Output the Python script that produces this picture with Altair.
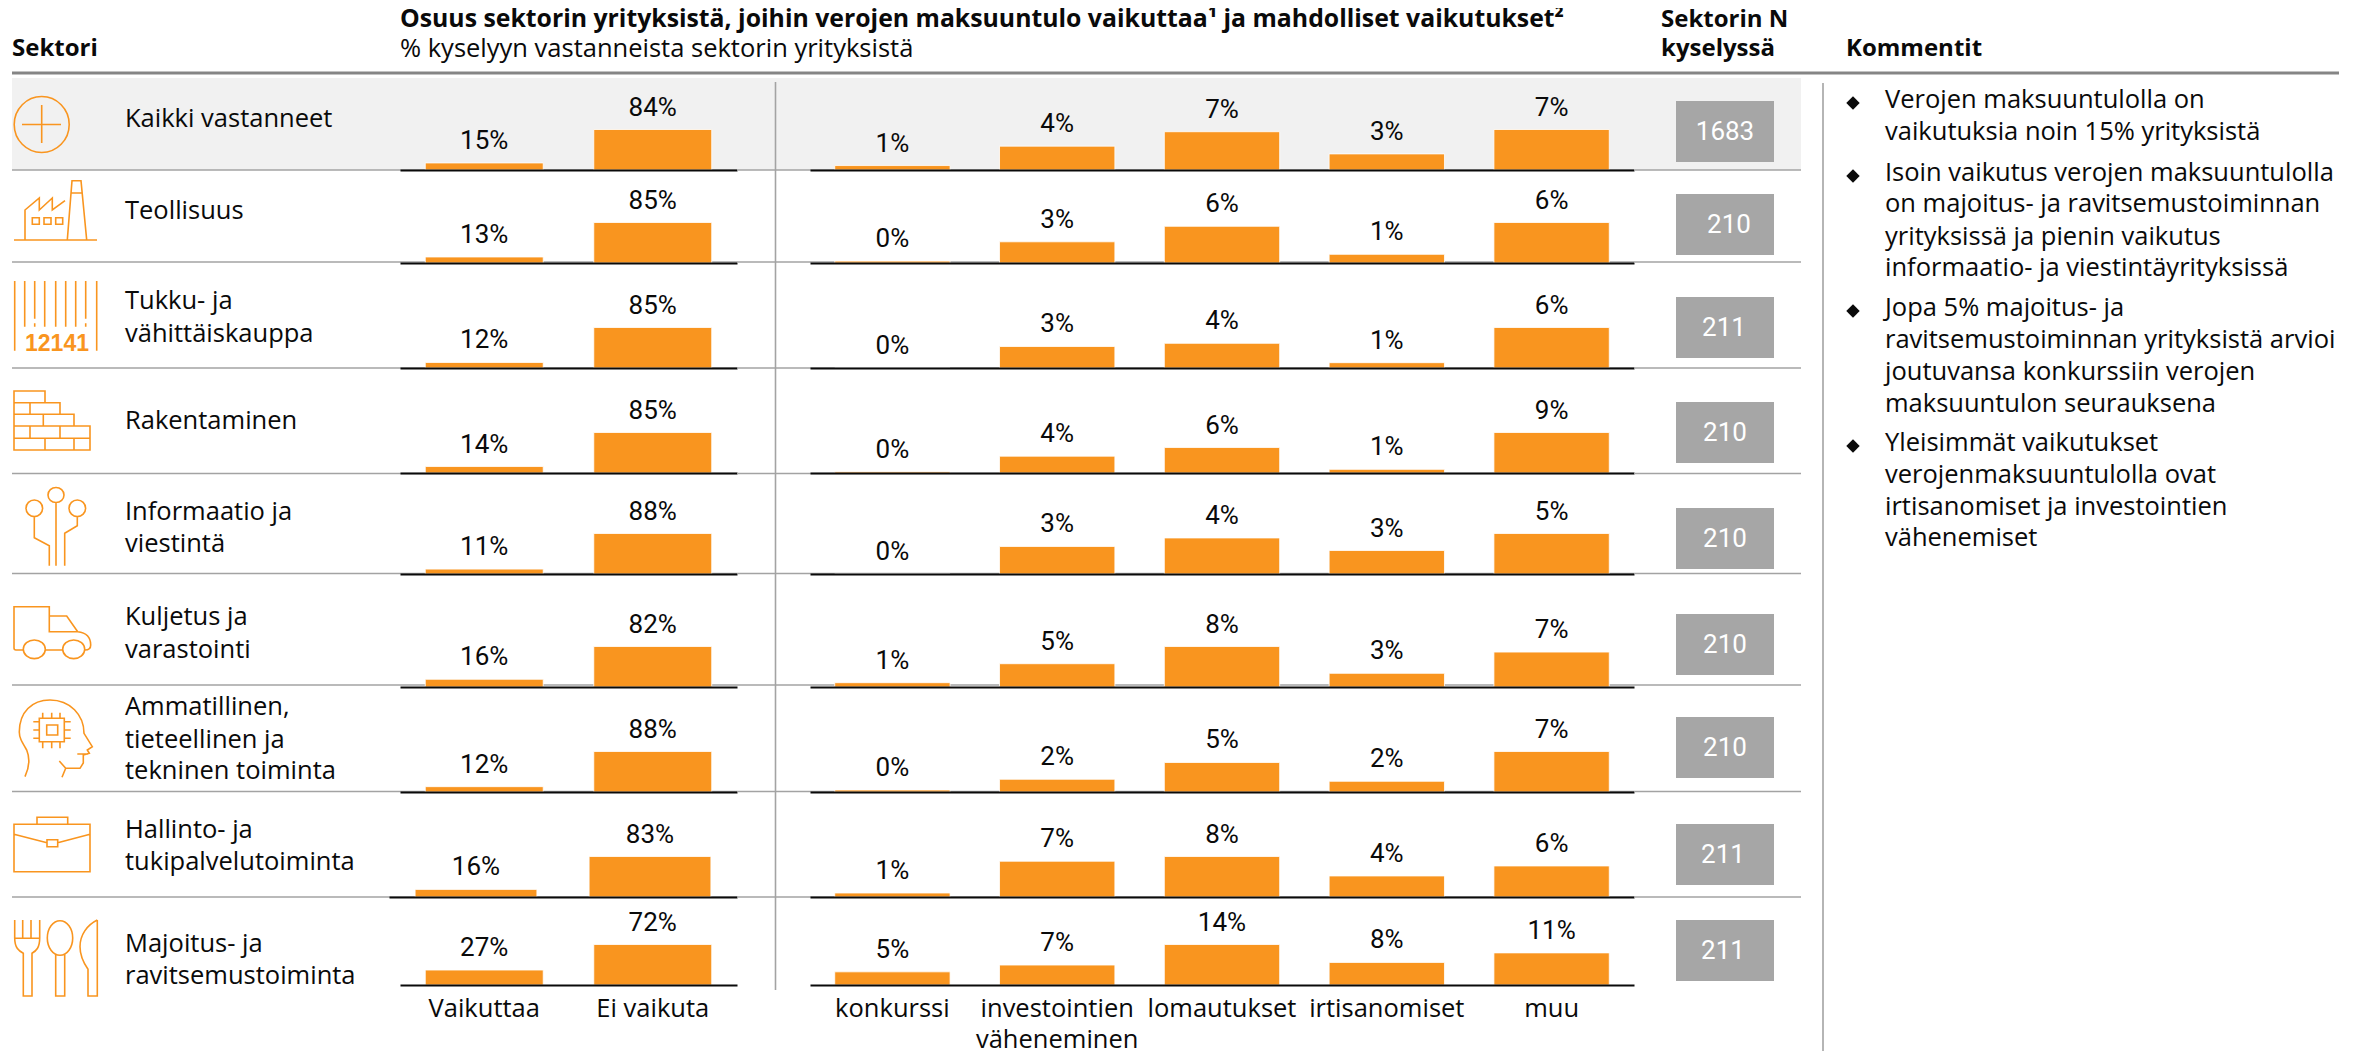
import altair as alt
import pandas as pd

# ---------- values ----------
sector_lines = [
    ["Kaikki vastanneet"], ["Teollisuus"], ["Tukku- ja", "vähittäiskauppa"], ["Rakentaminen"],
    ["Informaatio ja", "viestintä"], ["Kuljetus ja", "varastointi"],
    ["Ammatillinen,", "tieteellinen ja", "tekninen toiminta"], ["Hallinto- ja", "tukipalvelutoiminta"],
    ["Majoitus- ja", "ravitsemustoiminta"],
]
left_cats = ["Vaikuttaa", "Ei vaikuta"]
right_cats = ["konkurssi", "investointien väheneminen", "lomautukset", "irtisanomiset", "muu"]
vaikuttaa = [14.6, 12.6, 11.6, 13.6, 10.6, 15.6, 11.6, 15.6, 26.6]
ei_vaikuta = [84, 85, 85, 85, 88, 82, 88, 83, 72]
konkurssi = [0.8, 0.3, 0.0, 0.3, 0.0, 0.85, 0.35, 0.76, 4.55]
investoinnit = [4.3, 3.35, 3.4, 3.7, 3.4, 4.6, 2.2, 6.8, 6.9]
lomautukset = [6.9, 5.8, 3.9, 5.6, 4.45, 8.0, 5.1, 7.7, 14.0]
irtisanomiset = [2.9, 1.37, 0.84, 0.8, 2.9, 2.7, 1.85, 4.0, 7.8]
muu = [7.3, 6.4, 6.4, 8.9, 5.0, 6.9, 7.0, 5.9, 11.1]
sector_n = ["1683", "210", "211", "210", "210", "210", "210", "211", "211"]
comments = [
    ("Verojen maksuuntulolla on", True), ("vaikutuksia noin 15% yrityksistä", False),
    ("Isoin vaikutus verojen maksuuntulolla", True), ("on majoitus- ja ravitsemustoiminnan", False),
    ("yrityksissä ja pienin vaikutus", False), ("informaatio- ja viestintäyrityksissä", False),
    ("Jopa 5% majoitus- ja", True), ("ravitsemustoiminnan yrityksistä arvioi", False),
    ("joutuvansa konkurssiin verojen", False), ("maksuuntulon seurauksena", False),
    ("Yleisimmät vaikutukset", True), ("verojenmaksuuntulolla ovat", False),
    ("irtisanomiset ja investointien", False), ("vähenemiset", False),
]

# ---------- layout and style ----------
FONT = "Open Sans"
NUM_FONT = "Roboto"
FS = 25.5
FS_BOLD = 24
FS_TITLE = 24.8
FS_NUM = 26
ORANGE = "#F9951F"
GREY_SEP = "#A3A3A3"
GREY_BOX = "#A6A6A6"
GREY_HEAD = "#858585"
BG = "#F1F1F1"
INK = "#0A0A0A"
MARGIN = 8
BAR_PX = 40.5
HEAD_LINE1 = 19.5
HEAD_LINE2 = 49
baselines = [170, 263, 368, 473, 574, 687, 792, 897, 985]
separators = [170, 262, 368, 473.5, 573.5, 685, 791.5, 897, None]
left_x = [400, 400, 400, 400, 400, 400, 400, 389, 400]
box_top = [101, 194, 297, 402, 508, 614, 717, 824, 920]
n_center = [1725, 1729, 1724, 1725, 1725, 1725, 1725, 1723, 1723]
label_y = [[119], [211], [301, 334], [421], [512, 544], [617, 650], [707, 740, 771], [830, 862], [944, 976]]
comment_y = [100, 132, 173, 204, 237, 268, 308, 340, 372, 404, 443, 475, 507, 538]
X_NAME_END, X_LEFT_END, X_RIGHT, X_RIGHT_END, X_N_END = 389, 737, 810, 1634, 1801
ONE = pd.DataFrame({"o": [0]})


def ell(cx, cy, rx, ry):
    k = 0.5523
    return (f"M{cx-rx} {cy} C{cx-rx} {cy-k*ry} {cx-k*rx} {cy-ry} {cx} {cy-ry} "
            f"C{cx+k*rx} {cy-ry} {cx+rx} {cy-k*ry} {cx+rx} {cy} "
            f"C{cx+rx} {cy+k*ry} {cx+k*rx} {cy+ry} {cx} {cy+ry} "
            f"C{cx-k*rx} {cy+ry} {cx-rx} {cy+k*ry} {cx-rx} {cy} Z ")


def sq(x0, x1, y0, y1):
    return f"M{x0} {y0} H{x1} V{y1} H{x0} Z "


def vl(x, y0, y1):
    return f"M{x} {y0} V{y1} "


def hl(y, x0, x1):
    return f"M{x0} {y} H{x1} "


icons = [
    ell(41.7, 124.5, 27.5, 28) + hl(124.5, 22, 61) + vl(41.7, 105, 143),
    hl(240, 14, 97) + "M67.3 240 L72 180.7 H81 L86.7 240 " + hl(193, 70.7, 82)
    + "M25 240 V210 L39.3 198 V210 L52.3 198 V210 L65 200.7 "
    + sq(32.3, 39.3, 217.7, 224.3) + sq(44, 51, 217.7, 224.3) + sq(55.7, 62.7, 217.7, 224.3),
    vl(14.7, 281, 350.7) + vl(96.7, 281, 350.7) + vl(24.7, 281, 326.7) + vl(34.7, 281, 318.7)
    + vl(34.7, 323.3, 326.7) + vl(44.7, 281, 326.7) + vl(55.7, 281, 326.7) + vl(65.7, 281, 326.7)
    + vl(75.7, 281, 326.7) + vl(85.7, 281, 318.7) + vl(85.7, 323.3, 326.7),
    "M14 391 H45 V402.7 H60 V414.3 H74 V426 H90 V450 H14 Z " + hl(402.7, 14, 45) + hl(414.3, 14, 74)
    + hl(426, 14, 90) + hl(438.3, 14, 90) + vl(30, 402.7, 414.3) + vl(43.3, 414.3, 426)
    + vl(30, 426, 438.3) + vl(60, 426, 438.3) + vl(45, 438.3, 450) + vl(74, 438.3, 450),
    ell(34.3, 508.3, 8.3, 8.3) + ell(56, 495, 8, 7.5) + ell(77.3, 508.3, 8.3, 8.3) + vl(56, 502.7, 565.7)
    + "M34.3 516.7 V537.7 L49.3 545.7 V565.7 M77.3 516.7 V525.7 L64.7 533.3 V565.7 ",
    "M23.3 650 H16 Q14 650 14 648 V606.7 H49.3 V631.7 H77.7 Q90.7 633 90.7 645 Q90.7 650 85 650 "
    + "M49.3 616 H66.7 L77.7 631.7 " + ell(34.3, 649.3, 11, 9.3) + ell(73.7, 649.3, 11, 9.3) + hl(650, 45.3, 62.7),
    "M25 776.7 C29 768 30 758 26.7 750 C22 742 19.3 738 19.3 732 C19.3 712 32 700 50 700 "
    + "C70 700 84 715 84 733.3 L92.3 746.7 L87.3 750 L89.3 753.3 L83.3 755 V763 L80 768.3 H65.7 L59.3 761 "
    + "M65.7 768.3 L62 777.3 " + hl(754, 77.3, 88) + sq(39.3, 64.3, 718.3, 741.7) + sq(46.7, 57.7, 725, 735)
    + vl(42.7, 712.7, 718.3) + vl(51.7, 712.7, 718.3) + vl(60, 712.7, 718.3)
    + vl(42.7, 741.7, 748.3) + vl(51.7, 741.7, 748.3) + vl(60, 741.7, 748.3)
    + hl(721.7, 33.3, 39.3) + hl(730, 33.3, 39.3) + hl(738.3, 33.3, 39.3)
    + hl(721.7, 64.3, 70.7) + hl(730, 64.3, 70.7) + hl(738.3, 64.3, 70.7),
    sq(14, 90, 824.3, 871.7) + "M37 824.3 V817.3 H67.7 V824.3 M14 834.3 L47 842.7 M57.7 842.7 L90 834.3 "
    + sq(47, 57.7, 839.7, 846.7),
    "M14.7 920 V938 C14.7 948 19 951 23.3 953.3 V996 H32 V953.3 C36 951 39.7 948 39.7 938 V920 "
    + vl(22.7, 920, 938.3) + vl(31, 920, 938.3) + hl(938.3, 14.7, 39.7)
    + ell(60, 938, 12.7, 17.3).replace(" Z", "") + "M55.7 954 V996 H64.7 V954 "
    + "M97.3 920 V996 H88 V969.3 C83 962 80 955 80 946.7 C80 935 87 925 97.3 920 ",
]


def text_layer(rows, **kw):
    style = dict(font=FONT, fontSize=FS, color=INK, align="left", baseline="middle")
    style.update(kw)
    return alt.Chart(pd.DataFrame(rows, columns=["x", "y", "t"])).mark_text(**style).encode(
        x=alt.X("x:Q", scale=None), y=alt.Y("y:Q", scale=None), text="t:N")


def rect(x0, x1, y0, y1, color):
    return alt.Chart(ONE).mark_rect(color=color).encode(
        x=alt.value(x0), x2=alt.value(x1), y=alt.value(y0), y2=alt.value(y1))


def hrule(x0, x1, y, color=GREY_SEP, w=1.6):
    return alt.Chart(ONE).mark_rule(color=color, strokeWidth=w).encode(
        x=alt.value(x0), x2=alt.value(x1), y=alt.value(y))


def vrule(x, y0, y1, color=GREY_SEP, w=1.6):
    return alt.Chart(ONE).mark_rule(color=color, strokeWidth=w).encode(
        x=alt.value(x), y=alt.value(y0), y2=alt.value(y1))


def decorations(i, top, w, x0=0):
    out = []
    if i == 0:
        out.append(rect(x0, w, 78 - top, baselines[0] - top, BG))
    if separators[i] is not None:
        out.append(hrule(x0, w, separators[i] - top))
    return out


def bar_layers(df, x, y):
    bars = alt.Chart(df).mark_bar(color=ORANGE, stroke="white", strokeWidth=0.8).encode(x=x, y=y)
    text = alt.Chart(df).mark_text(font=NUM_FONT, fontSize=FS_NUM, color=INK, dy=-22, baseline="middle").encode(
        x=x, y=y, text="lab:N")
    return bars, text


panels = []
top = MARGIN
for i, base_y in enumerate(baselines):
    h = base_y - top
    last = i == len(baselines) - 1
    lx = left_x[i]
    # sector name and icon
    lab = text_layer([[125 - MARGIN, y - top, s] for y, s in zip(label_y[i], sector_lines[i])])
    ic = alt.Chart(ONE).mark_point(shape=icons[i], size=4, filled=False, stroke=ORANGE, strokeWidth=1.6,
                                   opacity=1).encode(x=alt.value(-MARGIN), y=alt.value(-top))
    name_w = X_NAME_END - MARGIN
    layers = decorations(i, top, name_w, 12 - MARGIN) + [ic, lab]
    if i == 2:
        layers.append(text_layer([[57 - MARGIN, 343.5 - top, "12141"]], font="Liberation Sans", fontWeight="bold",
                                 fontSize=23, color=ORANGE, align="center"))
    if i == 0:
        # header block and comments column share the first cell and run past it
        head_bold = [
            [12 - MARGIN, HEAD_LINE2 - MARGIN, "Sektori"],
            [1661 - MARGIN, HEAD_LINE1 - MARGIN, "Sektorin N"],
            [1661 - MARGIN, HEAD_LINE2 - MARGIN, "kyselyssä"],
            [1846 - MARGIN, HEAD_LINE2 - MARGIN, "Kommentit"],
        ]
        head_title = [[400 - MARGIN, HEAD_LINE1 - MARGIN,
                       "Osuus sektorin yrityksistä, joihin verojen maksuuntulo vaikuttaa¹ ja mahdolliset vaikutukset²"]]
        head_reg = [[400 - MARGIN, HEAD_LINE2 - MARGIN, "% kyselyyn vastanneista sektorin yrityksistä"]]
        c_rows = [[1885 - MARGIN, y - MARGIN, s] for y, (s, _) in zip(comment_y, comments)]
        c_b = pd.DataFrame({"x": [1853 - MARGIN] * sum(b for _, b in comments),
                            "y": [y + 3 - MARGIN for y, (_, b) in zip(comment_y, comments) if b]})
        bullets = alt.Chart(c_b).mark_point(shape="diamond", filled=True, color=INK, size=180, opacity=1).encode(
            x=alt.X("x:Q", scale=None), y=alt.Y("y:Q", scale=None))
        layers += [hrule(12 - MARGIN, 2339 - MARGIN, 73 - MARGIN, GREY_HEAD, 3),
                   text_layer(head_bold, fontWeight="bold", fontSize=FS_BOLD),
                   text_layer(head_title, fontWeight="bold", fontSize=FS_TITLE),
                   text_layer(head_reg),
                   vrule(1823 - MARGIN, 83 - MARGIN, 1051 - MARGIN, "#B5B5B5", 2), bullets, text_layer(c_rows)]
    panels.append(alt.layer(*layers).properties(width=name_w, height=h))

    # the two bar groups: narrower range in the rows that start further right
    lw = X_LEFT_END - X_NAME_END
    vals_l = [vaikuttaa[i], ei_vaikuta[i]]
    df_l = pd.DataFrame({"cat": left_cats, "v": vals_l, "lab": [f"{round(v)}%" for v in vals_l]})
    common_axis = dict(title=None, ticks=False, grid=False, domainColor=INK, domainWidth=2.2, zindex=1,
                       labels=last, labelFont=FONT, labelFontSize=FS, labelColor=INK, labelAngle=0,
                       labelPadding=11, labelOverlap=False, labelLimit=400, labelLineHeight=31)
    x_l = alt.X("cat:N", sort=left_cats, axis=alt.Axis(**common_axis),
                scale=alt.Scale(domain=left_cats, range=[lx - X_NAME_END, lw], paddingInner=0.3, paddingOuter=0.15))
    y_l = alt.Y("v:Q", axis=None, scale=alt.Scale(domain=[0, max(vals_l) * h / BAR_PX], nice=False))
    panels.append(alt.layer(*decorations(i, top, lw), *bar_layers(df_l, x_l, y_l)).properties(width=lw, height=h))

    gap_w = X_RIGHT - X_LEFT_END
    panels.append(alt.layer(*decorations(i, top, gap_w),
                            vrule(775.5 - X_LEFT_END, max(82 - top, 0), h + (5 if last else 0))
                            ).properties(width=gap_w, height=h))

    rw = X_RIGHT_END - X_RIGHT
    vals = [konkurssi[i], investoinnit[i], lomautukset[i], irtisanomiset[i], muu[i]]
    df_r = pd.DataFrame({"cat": right_cats, "v": vals, "lab": [f"{round(v)}%" for v in vals]})
    x_r = alt.X("cat:N", sort=right_cats,
                axis=alt.Axis(labelExpr="split(datum.label, ' ')", **common_axis),
                scale=alt.Scale(domain=right_cats, paddingInner=0.3, paddingOuter=0.15))
    y_r = alt.Y("v:Q", axis=None, scale=alt.Scale(domain=[0, max(vals) * h / BAR_PX], nice=False))
    panels.append(alt.layer(*decorations(i, top, rw), *bar_layers(df_r, x_r, y_r)).properties(width=rw, height=h))

    # sample size box
    n_w = X_N_END - X_RIGHT_END
    nb = rect(1676 - X_RIGHT_END, 1774 - X_RIGHT_END, box_top[i] - top, box_top[i] + 61 - top, GREY_BOX)
    nt = text_layer([[n_center[i] - X_RIGHT_END, box_top[i] + 31 - top, sector_n[i]]], color="white",
                    align="center", font=NUM_FONT, fontSize=FS_NUM)
    panels.append(alt.layer(*decorations(i, top, n_w), nb, nt).properties(width=n_w, height=h))
    top = base_y

chart = alt.concat(*panels, columns=5, spacing=0, bounds="flush", align="each"
                   ).properties(padding={"left": 0, "right": 0, "top": -2, "bottom": 0},
                                background="white").configure_view(strokeWidth=0)
chart.save("out.html", embed_options={"renderer": "svg", "actions": False})
